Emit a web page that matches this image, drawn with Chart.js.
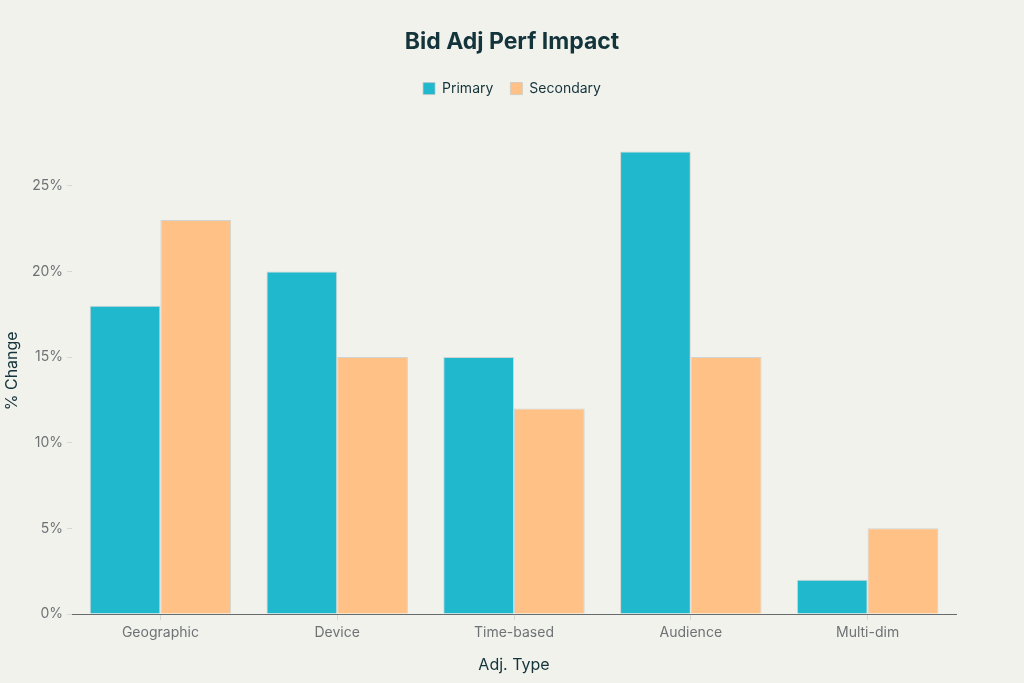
<!DOCTYPE html>
<html>
<head>
<meta charset="utf-8">
<script src="https://cdn.jsdelivr.net/npm/chart.js@4/dist/chart.umd.min.js"></script>
<style>
  html, body { margin: 0; padding: 0; background: #F2F2ED; }
  #wrap { width: 1024px; height: 683px; }
</style>
</head>
<body>
<div id="wrap"><canvas id="myChart" width="1024" height="683"></canvas></div>
<script>
// Data: adjustment types and % change per series

const categories = ['Geographic', 'Device', 'Time-based', 'Audience', 'Multi-dim'];
const primary = [18, 20, 15, 27, 2];
const secondary = [23, 15, 12, 15, 5];
const yTicks = [0, 5, 10, 15, 20, 25];

const textDark = '#13343B';
const tickGray = '#6E7275';

// push the plot down a bit below the legend
const legendGap = {
    id: 'legendGap',
    beforeInit(chart) {
        const fit = chart.legend.fit;
        chart.legend.fit = function () {
            fit.bind(chart.legend)();
            this.height += 22;
        };
    }
};

const config = {
    type: 'bar',
    data: {
        labels: categories,
        datasets: [{
            label: 'Primary',
            data: primary,
            backgroundColor: '#1FB8CD',
            borderColor: 'rgba(195,200,198,0.7)',
            borderWidth: 1,
        }, {
            label: 'Secondary',
            data: secondary,
            backgroundColor: '#FFC185',
            borderColor: 'rgba(195,200,198,0.7)',
            borderWidth: 1,
        }]
    },
    options: {
        responsive: false,
        animation: false,
        layout: {
            padding: 0
        },
        datasets: {
            bar: { categoryPercentage: 0.8, barPercentage: 1.0 }
        },
        plugins: {
            title: {
                display: true,
                text: 'Bid Adj Perf Impact',
                color: textDark,
                font: { family: 'Inter', size: 23, weight: 'bold' },
                padding: { top: 28, bottom: 9 }
            },
            legend: {
                display: true,
                labels: {
                    color: textDark,
                    boxWidth: 12,
                    boxHeight: 12,
                    padding: 17,
                    font: { family: 'Inter', size: 14 }
                }
            },
            tooltip: { enabled: false }
        },
        scales: {
            x: {
                afterFit(scale) { scale.height = 69; },
                border: { display: true, color: '#666B6E', width: 1 },
                grid: {
                    display: true,
                    offset: false,
                    drawOnChartArea: false,
                    tickLength: 6,
                    color: '#D6D8D5'
                },
                ticks: {
                    color: tickGray,
                    font: { family: 'Inter', size: 14 },
                    padding: 4
                },
                title: {
                    display: true,
                    text: 'Adj. Type',
                    color: textDark,
                    font: { family: 'Inter', size: 16 },
                    padding: { top: 4, bottom: 8 }
                }
            },
            y: {
                min: 0,
                max: 28.4,
                afterFit(scale) { scale.width = 72; },
                afterBuildTicks(scale) {
                    scale.ticks = yTicks.map(v => ({ value: v }));
                },
                border: { display: false },
                grid: {
                    display: true,
                    drawOnChartArea: false,
                    tickLength: 5,
                    color: '#D6D8D5'
                },
                ticks: {
                    color: tickGray,
                    font: { family: 'Inter', size: 14 },
                    padding: 4,
                    callback: v => v + '%'
                },
                title: {
                    display: true,
                    text: '% Change',
                    color: textDark,
                    font: { family: 'Inter', size: 16 },
                    padding: { top: 3, bottom: 4 }
                }
            },
            // empty right-hand axis that only reserves the right margin
            yRight: {
                position: 'right',
                display: true,
                afterFit(scale) { scale.width = 68; },
                border: { display: false },
                grid: { display: false },
                ticks: { display: false }
            }
        }
    },
    plugins: [legendGap]
};

const ctx = document.querySelector('#myChart');
let myChart = new Chart(ctx, config);
</script>
</body>
</html>
